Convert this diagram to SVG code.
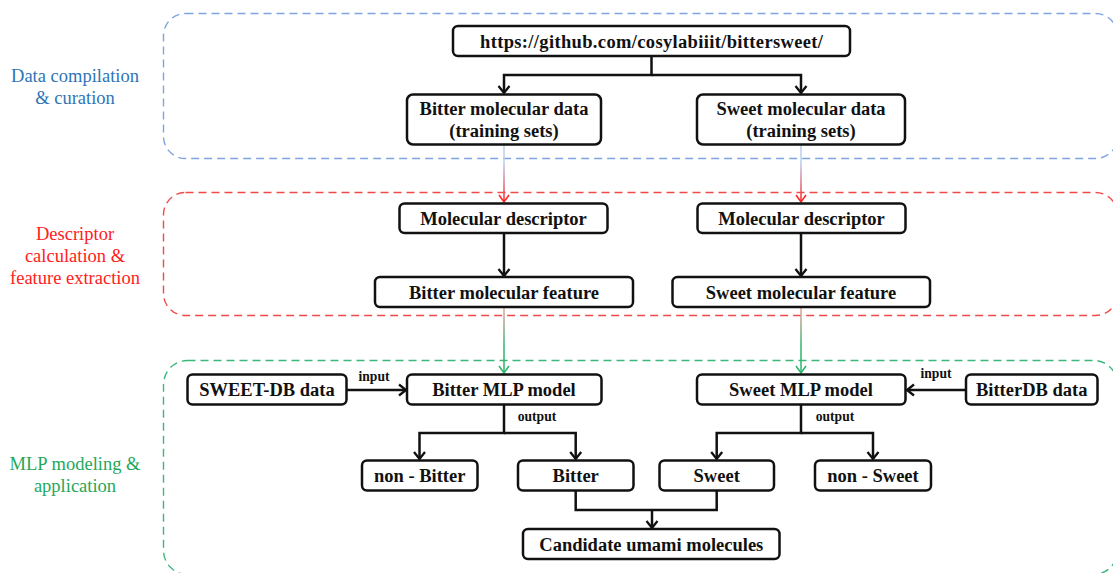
<svg xmlns="http://www.w3.org/2000/svg" width="1113" height="573" viewBox="0 0 1113 573" font-family="'Liberation Serif', Tinos, 'Times New Roman', 'DejaVu Serif', serif">
<defs>
<style>
.node rect{fill:#fff;stroke:#111;stroke-width:2.5}
.node text{font-weight:bold;font-size:18.5px;fill:#111;text-anchor:middle}
.lbl{font-size:18.5px;text-anchor:middle}
.small{font-weight:bold;font-size:13.6px;fill:#111;text-anchor:middle}
.conn{fill:none;stroke:#111;stroke-width:2.5}
.grad{fill:none;stroke-width:1.5}
.sec{fill:none;stroke-width:1.4;stroke-dasharray:8 5}
</style>
<marker id="ah" viewBox="-10 -7 12 14" markerWidth="12" markerHeight="14" refX="0" refY="0" orient="auto" markerUnits="userSpaceOnUse">
<path d="M-7,-5.5 L0,0 L-7,5.5" fill="none" stroke="#111" stroke-width="2.3"/>
</marker>
<marker id="ahr" viewBox="-10 -7 12 14" markerWidth="12" markerHeight="14" refX="0" refY="0" orient="auto" markerUnits="userSpaceOnUse">
<path d="M-7,-5 L0,0 L-7,5" fill="none" stroke="#ff2020" stroke-width="1.5"/>
</marker>
<marker id="ahg" viewBox="-10 -7 12 14" markerWidth="12" markerHeight="14" refX="0" refY="0" orient="auto" markerUnits="userSpaceOnUse">
<path d="M-7,-5 L0,0 L-7,5" fill="none" stroke="#2ab46a" stroke-width="1.5"/>
</marker>
<linearGradient id="gBR" gradientUnits="userSpaceOnUse" x1="0" y1="145" x2="0" y2="203">
<stop offset="0" stop-color="#b8cdf0"/>
<stop offset="0.3" stop-color="#b8cdf0"/>
<stop offset="1" stop-color="#ff1a1a"/>
</linearGradient>
<linearGradient id="gRG" gradientUnits="userSpaceOnUse" x1="0" y1="307" x2="0" y2="374">
<stop offset="0" stop-color="#f4a0a0"/>
<stop offset="0.6" stop-color="#2ab46a"/>
<stop offset="1" stop-color="#2ab46a"/>
</linearGradient>
</defs>

<g id="sections">
<rect id="sec-data" class="sec" x="163.5" y="13.5" width="954" height="145" rx="22" stroke="#7ea5e2"/>
<rect id="sec-desc" class="sec" x="163.5" y="192.5" width="954" height="123" rx="22" stroke="#ee4a4a"/>
<rect id="sec-mlp" class="sec" x="163.5" y="360.5" width="954" height="214" rx="24" stroke="#3bb87a"/>
<text class="lbl" fill="#2e75b6" x="75" y="81.5">Data compilation</text>
<text class="lbl" fill="#2e75b6" x="75" y="103.5">&amp; curation</text>
<text class="lbl" fill="#ff2020" x="75" y="240">Descriptor</text>
<text class="lbl" fill="#ff2020" x="75" y="262">calculation &amp;</text>
<text class="lbl" fill="#ff2020" x="75" y="284">feature extraction</text>
<text class="lbl" fill="#1fa85a" x="75" y="470">MLP modeling &amp;</text>
<text class="lbl" fill="#1fa85a" x="75" y="492">application</text>
</g>

<g id="connectors">
<path class="conn" d="M651.5,56 V75 H504 V93" marker-end="url(#ah)"/>
<path class="conn" d="M651.5,75 H801 V93" marker-end="url(#ah)"/>
<path class="grad" d="M504,145 V202" stroke="url(#gBR)" marker-end="url(#ahr)"/>
<path class="grad" d="M801,145 V202" stroke="url(#gBR)" marker-end="url(#ahr)"/>
<path class="conn" d="M504,233 V276" marker-end="url(#ah)"/>
<path class="conn" d="M801,233 V276" marker-end="url(#ah)"/>
<path class="grad" d="M504,307 V373" stroke="url(#gRG)" marker-end="url(#ahg)"/>
<path class="grad" d="M801,307 V373" stroke="url(#gRG)" marker-end="url(#ahg)"/>
<path class="conn" d="M347,390 H406" marker-end="url(#ah)"/>
<path class="conn" d="M966,390 H907" marker-end="url(#ah)"/>
<path class="conn" d="M504,404 V433 H419.5 V459" marker-end="url(#ah)"/>
<path class="conn" d="M504,433 H575.7 V459" marker-end="url(#ah)"/>
<path class="conn" d="M801,404 V433 H716.7 V459" marker-end="url(#ah)"/>
<path class="conn" d="M801,433 H873 V459" marker-end="url(#ah)"/>
<path class="conn" d="M575.7,491 V510 H716.7 V491"/>
<path class="conn" d="M652,510 V528" marker-end="url(#ah)"/>
<text class="small" x="374" y="380.5">input</text>
<text class="small" x="936" y="378">input</text>
<text class="small" x="537" y="420.5">output</text>
<text class="small" x="835" y="420.5">output</text>
</g>

<g id="n-url" class="node"><rect x="453" y="26" width="397" height="30" rx="5"/><text x="651.5" y="47.5" textLength="343" lengthAdjust="spacing">https://github.com/cosylabiiit/bittersweet/</text></g>
<g id="n-bitter-data" class="node"><rect x="407" y="94.5" width="194" height="50" rx="6"/><text x="504" y="115">Bitter molecular data</text><text x="504" y="136.5">(training sets)</text></g>
<g id="n-sweet-data" class="node"><rect x="697" y="94.5" width="208" height="50" rx="6"/><text x="801" y="115">Sweet molecular data</text><text x="801" y="136.5">(training sets)</text></g>
<g id="n-bitter-desc" class="node"><rect x="399.5" y="203.5" width="208" height="29.5" rx="5"/><text x="503.5" y="224.5">Molecular descriptor</text></g>
<g id="n-sweet-desc" class="node"><rect x="697.5" y="203.5" width="208" height="29.5" rx="5"/><text x="801.5" y="224.5">Molecular descriptor</text></g>
<g id="n-bitter-feat" class="node"><rect x="375" y="277" width="258" height="30" rx="5"/><text x="504" y="298.5">Bitter molecular feature</text></g>
<g id="n-sweet-feat" class="node"><rect x="672.5" y="277" width="257.5" height="30" rx="5"/><text x="801" y="298.5">Sweet molecular feature</text></g>
<g id="n-sweetdb" class="node"><rect x="187.5" y="374.5" width="159" height="30" rx="5"/><text x="267" y="396">SWEET-DB data</text></g>
<g id="n-bitter-mlp" class="node"><rect x="407" y="374.5" width="194.5" height="30" rx="5"/><text x="504" y="396">Bitter MLP model</text></g>
<g id="n-sweet-mlp" class="node"><rect x="697" y="374.5" width="208.5" height="30" rx="5"/><text x="801" y="396">Sweet MLP model</text></g>
<g id="n-bitterdb" class="node"><rect x="966" y="374.5" width="131.5" height="30" rx="5"/><text x="1031.7" y="396">BitterDB data</text></g>
<g id="n-nonbitter" class="node"><rect x="362" y="460.5" width="115.5" height="30" rx="5"/><text x="419.7" y="482">non - Bitter</text></g>
<g id="n-bitter" class="node"><rect x="518" y="460.5" width="115.5" height="30" rx="5"/><text x="575.7" y="482">Bitter</text></g>
<g id="n-sweet" class="node"><rect x="659.5" y="460.5" width="114.5" height="30" rx="5"/><text x="716.7" y="482">Sweet</text></g>
<g id="n-nonsweet" class="node"><rect x="815" y="460.5" width="116" height="30" rx="5"/><text x="873" y="482">non - Sweet</text></g>
<g id="n-candidate" class="node"><rect x="523" y="529" width="256.5" height="30" rx="5"/><text x="651.3" y="550.5">Candidate umami molecules</text></g>
</svg>
